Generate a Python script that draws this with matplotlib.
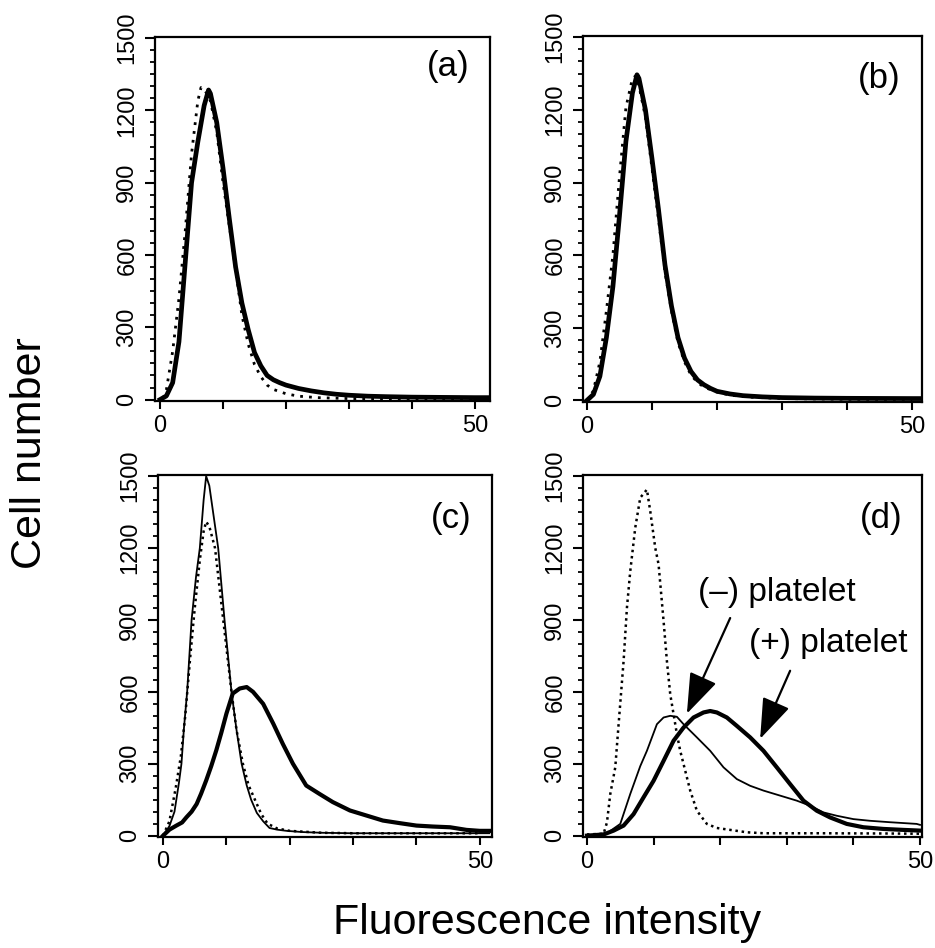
import numpy as np
import matplotlib
matplotlib.use('Agg')
import matplotlib.pyplot as plt
from matplotlib.ticker import MultipleLocator, FixedLocator, FixedFormatter

plt.rcParams['font.family'] = ['Liberation Sans', 'DejaVu Sans']

# panel (a)
a_solid_x = [0, 1, 2, 3, 4, 5, 6, 7, 7.7, 8, 9, 10, 11, 12, 13, 14, 15, 16, 17, 18, 19, 20, 22, 24, 26, 28, 30, 33, 36, 40, 45, 50, 52]
a_solid_y = [0, 15, 70, 240, 570, 900, 1070, 1220, 1285, 1270, 1150, 960, 750, 550, 400, 290, 195, 140, 100, 82, 70, 60, 46, 36, 28, 22, 18, 14, 12, 10, 9, 8, 8]
a_dot_x = [0.5, 1, 2, 3, 4, 5, 6, 6.5, 7, 8, 9, 10, 11, 12, 13, 14, 15, 16, 17, 18, 20, 22, 25, 30, 40, 50]
a_dot_y = [5, 40, 200, 420, 700, 1020, 1240, 1295, 1290, 1240, 1110, 900, 720, 540, 350, 230, 145, 95, 60, 42, 24, 14, 8, 4, 3, 3]

# panel (b)
b_solid_x = [0, 1, 2, 3, 4, 5, 6, 7, 7.7, 8, 9, 10, 11, 12, 13, 14, 15, 16, 17, 18, 19, 20, 22, 24, 27, 30, 35, 40, 50, 51.5]
b_solid_y = [0, 25, 100, 260, 470, 760, 1070, 1270, 1345, 1330, 1200, 1000, 790, 560, 390, 260, 175, 120, 85, 65, 50, 38, 27, 20, 15, 12, 10, 9, 8, 8]
b_dot_x = [0, 1, 2, 3, 4, 5, 6, 7, 7.5, 8, 9, 10, 11, 12, 13, 14, 15, 16, 17, 18, 20, 22, 25, 30, 40, 50]
b_dot_y = [0, 40, 160, 370, 600, 920, 1210, 1330, 1340, 1300, 1170, 960, 750, 530, 370, 240, 160, 105, 75, 55, 35, 22, 14, 8, 5, 4]

# panel (c)
c_thin_x = [0, 1, 1.8, 2.5, 2.9, 3.3, 3.8, 4.5, 5.2, 5.8, 6.4, 6.8, 7.3, 8, 8.7, 9.7, 10.8, 11.6, 12.4, 13.2, 13.9, 14.8, 15.8, 16.8, 18, 19.5, 22, 25, 30, 40, 50, 51.5]
c_thin_y = [0, 40, 100, 220, 300, 450, 600, 900, 1080, 1200, 1400, 1500, 1460, 1330, 1200, 900, 600, 440, 300, 210, 150, 95, 60, 32, 25, 20, 15, 12, 10, 10, 10, 10]
c_dot_x = [0, 1, 2, 2.8, 3.5, 4.3, 5, 5.8, 6.4, 6.8, 7.3, 8.2, 9.5, 10.8, 11.6, 12.6, 13.5, 14.5, 15.5, 16.5, 18, 20, 25, 30, 40, 50]
c_dot_y = [0, 60, 200, 330, 500, 750, 950, 1150, 1270, 1310, 1290, 1200, 900, 600, 440, 300, 210, 150, 90, 50, 30, 20, 12, 10, 10, 10]
c_thick_x = [0, 1, 2.1, 3, 3.7, 4.5, 5.3, 6, 6.8, 7.6, 8.4, 9.2, 10, 11, 12.1, 13.2, 14.2, 15.8, 17.4, 18.9, 20.5, 22.6, 24.7, 26.8, 29.5, 32.1, 34.7, 37.4, 40, 42.6, 45.3, 47.9, 50, 51.5]
c_thick_y = [0, 25, 42, 55, 77, 100, 132, 175, 230, 290, 356, 430, 509, 593, 614, 620, 600, 550, 467, 383, 300, 209, 174, 140, 105, 84, 63, 52, 42, 38, 35, 24, 20, 20]

# panel (d)
d_dot_x = [0, 2.5, 3, 3.5, 4.25, 4.75, 5.5, 6, 6.5, 7.25, 8, 9, 9.5, 10.25, 10.75, 11.5, 12, 12.5, 13, 13.5, 14, 14.75, 15.5, 16.5, 18, 19.5, 21.5, 24, 26.5, 35, 45, 50]
d_dot_y = [5, 8, 55, 174, 285, 465, 729, 951, 1104, 1285, 1410, 1444, 1354, 1201, 1132, 896, 729, 590, 507, 424, 354, 271, 188, 104, 49, 32, 24, 14, 10, 10, 9, 8]
d_thin_x = [0, 3, 5, 6.5, 8, 9, 10.5, 11.5, 12.5, 13.5, 14.5, 16.5, 18.5, 20.5, 22.5, 24.5, 26.5, 29, 31.5, 33.5, 35.5, 37.5, 40, 42.5, 45.5, 49.5, 50]
d_thin_y = [0, 10, 49, 174, 290, 354, 465, 493, 500, 496, 465, 410, 354, 285, 236, 208, 188, 167, 146, 125, 97, 83, 69, 62, 56, 49, 45]
d_thick_x = [0, 2.5, 4, 5.5, 7, 8.5, 10, 11.5, 13, 14.5, 16, 17.5, 18.5, 19.5, 21, 22.5, 24.5, 26.5, 28.5, 30.5, 32.5, 34.5, 36.5, 39, 41.5, 44.5, 47.5, 50]
d_thick_y = [0, 5, 21, 42, 90, 160, 229, 312, 396, 451, 493, 514, 520, 514, 493, 458, 410, 354, 285, 215, 146, 104, 76, 49, 35, 28, 24, 21]

y_ticks = [0, 300, 600, 900, 1200, 1500]
x_ticks = [0, 10, 20, 30, 40, 50]
x_tick_labels = ['0', '', '', '', '', '50']
panel_labels = ['(a)', '(b)', '(c)', '(d)']


def style_axes(ax, xlim, label, label_pos):
    ax.set_xlim(*xlim)
    ax.set_ylim(-6, 1505)
    ax.xaxis.set_major_locator(FixedLocator(x_ticks))
    ax.xaxis.set_major_formatter(FixedFormatter(x_tick_labels))
    ax.yaxis.set_major_locator(FixedLocator(y_ticks))
    ax.yaxis.set_minor_locator(MultipleLocator(50))
    ax.tick_params(axis='y', which='major', direction='out', length=7, width=1.5,
                   pad=5, labelrotation=90)
    ax.tick_params(axis='y', which='minor', direction='out', length=3.6, width=1.3)
    ax.tick_params(axis='x', which='major', direction='out', length=6, width=1.5,
                   labelsize=17, pad=4)
    for lab in ax.get_yticklabels():
        lab.set_va('center')
        lab.set_family(['Liberation Sans Narrow', 'Liberation Sans'])
        lab.set_fontsize(17)
    for sp in ax.spines.values():
        sp.set_linewidth(1.6)
    ax.text(label_pos[0], label_pos[1], label, transform=ax.transAxes,
            ha='center', va='center', fontsize=25)


def main():
    fig = plt.figure(figsize=(9.35, 9.48), dpi=100)
    ax_a = fig.add_axes([0.1658, 0.577, 0.3583, 0.384])
    ax_b = fig.add_axes([0.6235, 0.576, 0.3626, 0.386])
    ax_c = fig.add_axes([0.169, 0.117, 0.357, 0.382])
    ax_d = fig.add_axes([0.6235, 0.117, 0.3626, 0.382])

    # (a)
    ax_a.plot(a_dot_x, a_dot_y, color='black', lw=2.0, linestyle=(0, (1, 2.2)))
    ax_a.plot(a_solid_x, a_solid_y, color='black', lw=3.4)
    style_axes(ax_a, (-0.8, 52.4), panel_labels[0], (0.875, 0.918))

    # (b)
    ax_b.plot(b_dot_x, b_dot_y, color='black', lw=2.0, linestyle=(0, (1, 2.2)))
    ax_b.plot(b_solid_x, b_solid_y, color='black', lw=3.4)
    style_axes(ax_b, (-0.6, 51.5), panel_labels[1], (0.873, 0.885))

    # (c)
    ax_c.plot(c_dot_x, c_dot_y, color='black', lw=1.8, linestyle=(0, (1, 1.5)))
    ax_c.plot(c_thin_x, c_thin_y, color='black', lw=1.3)
    ax_c.plot(c_thick_x, c_thick_y, color='black', lw=3.0)
    style_axes(ax_c, (-0.8, 51.9), panel_labels[2], (0.877, 0.881))

    # (d)
    ax_d.plot(d_dot_x, d_dot_y, color='black', lw=1.8, linestyle=(0, (1, 1.5)))
    ax_d.plot(d_thin_x, d_thin_y, color='black', lw=1.3)
    ax_d.plot(d_thick_x, d_thick_y, color='black', lw=3.0)
    style_axes(ax_d, (-0.6, 50.3), panel_labels[3], (0.879, 0.881))

    ax_d.text(28.5, 1013, '(\u2013) platelet', ha='center', va='center', fontsize=24)
    ax_d.text(36.2, 800, '(+) platelet', ha='center', va='center', fontsize=24)
    arrow = dict(arrowstyle='-|>,head_length=1.4,head_width=0.5', color='black',
                 lw=1.6, mutation_scale=18, shrinkA=0, shrinkB=0)
    ax_d.annotate('', xy=(15.0, 509), xytext=(21.5, 908), arrowprops=arrow)
    ax_d.annotate('', xy=(26.0, 404), xytext=(30.5, 688), arrowprops=arrow)

    fig.text(0.032, 0.522, 'Cell number', rotation=90, ha='center', va='center', fontsize=31)
    fig.text(0.585, 0.026, 'Fluorescence intensity', ha='center', va='center', fontsize=31)

    fig.savefig('out.png', dpi=100)


if __name__ == "__main__":
    main()
